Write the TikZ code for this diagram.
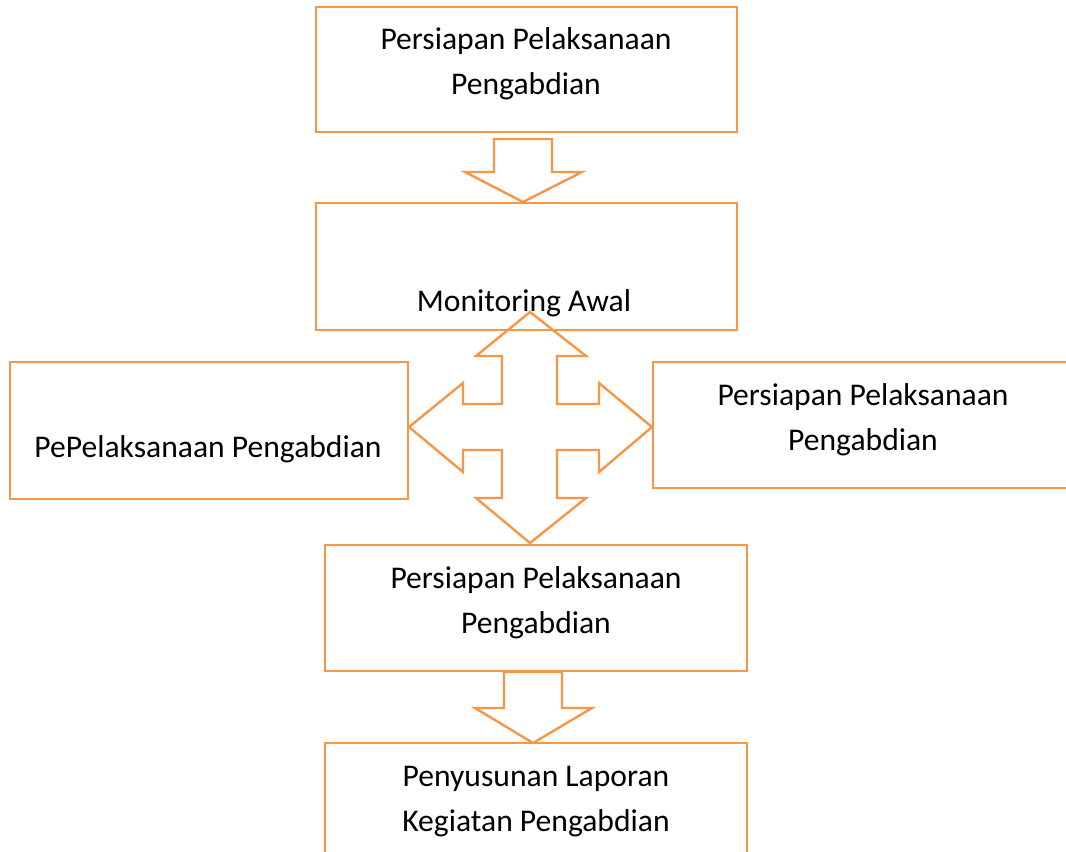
\documentclass[tikz,border=0pt]{standalone}
\usepackage{fontspec}
\setmainfont{Carlito}
\usetikzlibrary{positioning}
\definecolor{boxorange}{RGB}{247,150,70}

\begin{document}
\begin{tikzpicture}[
  x=0.75pt, y=-0.75pt,
  box/.style={rectangle, draw=boxorange, line width=1.8pt, inner sep=0pt},
  txt/.style={align=center, inner sep=0pt, font=\fontsize{23.7}{33.5}\selectfont},
  blockarrow/.style={draw=boxorange, line width=1.8pt, line join=miter}
]
\useasboundingbox (0,0) rectangle (1066,851);
\clip (0,0) rectangle (1066,851);

% boxes
\node[box, minimum width=315.75pt, minimum height=93.75pt] (prep) at (526.5,69.5) {};
\node[box, minimum width=315.75pt, minimum height=95.25pt] (monitor) at (526.5,266.5) {};
\node[box, minimum width=298.5pt, minimum height=102.75pt] (exec) at (209,430.5) {};
\node[box, minimum width=324pt, minimum height=94.5pt] (prepright) at (869,425) {};
\node[box, minimum width=316.5pt, minimum height=94.5pt] (preplow) at (536,608) {};
\node[box, minimum width=316.5pt, minimum height=102.75pt] (report) at (536,811.5) {};

% texts
\node[txt] (prept) at (526,63.5) {Persiapan Pelaksanaan\\Pengabdian};
\node[txt] (monitort) at (524,303.5) {Monitoring Awal};
\node[txt] (exect) at (208,449.5) {PePelaksanaan Pengabdian};
\node[txt] (preprightt) at (863,419.5) {Persiapan Pelaksanaan\\Pengabdian};
\node[txt] (preplowt) at (536,602.5) {Persiapan Pelaksanaan\\Pengabdian};
\node[txt] (reportt) at (536,801.5) {Penyusunan Laporan\\Kegiatan Pengabdian};

% block arrows
\draw[blockarrow] (494,139) -- (552,139) -- (552,172) -- (582,172) -- (523,202)
  -- (465,172) -- (494,172) -- cycle;
\draw[blockarrow] (530,312) -- (586,356) -- (557,356) -- (557,404) -- (599,404)
  -- (599,383) -- (652,427) -- (599,472) -- (599,450) -- (557,450) -- (557,498)
  -- (586,498) -- (530,543) -- (476,498) -- (502,498) -- (502,450) -- (463,450)
  -- (463,472) -- (409,427) -- (463,383) -- (463,404) -- (502,404) -- (502,356)
  -- (476,356) -- cycle;
\draw[blockarrow] (504,672) -- (562,672) -- (562,708) -- (592,708) -- (533,743)
  -- (475,708) -- (504,708) -- cycle;
\end{tikzpicture}
\end{document}
